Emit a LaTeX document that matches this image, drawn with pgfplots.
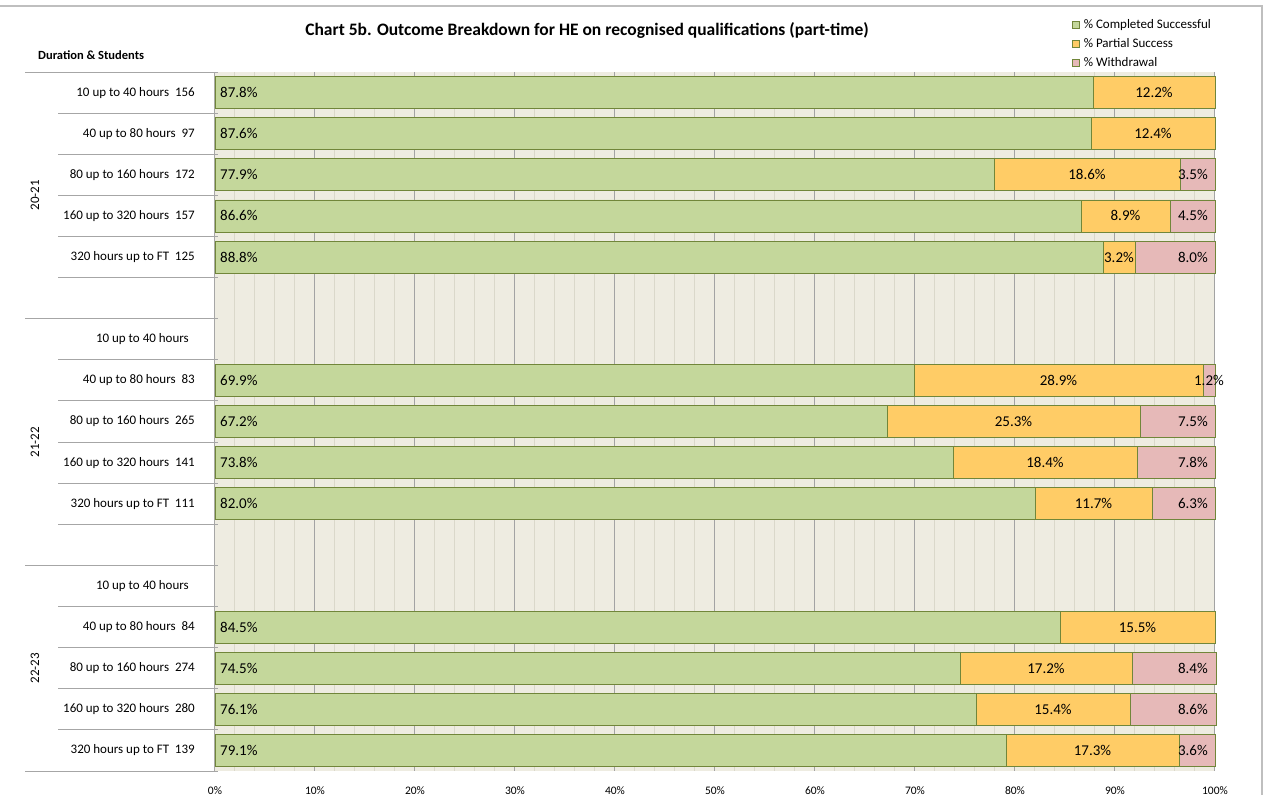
\documentclass[border=0pt]{standalone}
\usepackage{fontspec}
\setmainfont{Carlito}
\usepackage{pgfplots}
\usepackage{pgfplotstable}
\pgfplotsset{compat=1.18}
\definecolor{cg}{HTML}{C4D79B}
\definecolor{co}{HTML}{FFCC66}
\definecolor{cp}{HTML}{E6B9B8}
\definecolor{edge}{HTML}{71863A}
\definecolor{bg}{HTML}{EEECE1}
\definecolor{majg}{HTML}{A3A3A3}
\definecolor{ming}{HTML}{DAD8CA}
\definecolor{sepc}{HTML}{A6A6A6}
\newcommand\datafont{\fontsize{15bp}{17bp}\selectfont}
\newcommand\catfont{\fontsize{13bp}{15bp}\selectfont}
\newcommand\tickfont{\fontsize{11.5bp}{13bp}\selectfont}
\newcommand\legfont{\fontsize{13bp}{15bp}\selectfont}

\pgfplotstableread{
y g p w
0 87.8 12.2 0
1 87.6 12.4 0
2 77.9 18.6 3.5
3 86.6 8.9 4.5
4 88.8 3.2 8.0
7 69.9 28.9 1.2
8 67.2 25.3 7.5
9 73.8 18.4 7.8
10 82.0 11.7 6.3
13 84.5 15.5 0
14 74.5 17.2 8.4
15 76.1 15.4 8.6
16 79.1 17.3 3.6
}\data

\pgfplotsset{
  base/.style={scale only axis, width=1000bp, height=699bp,
    xmin=0, xmax=100, ymin=-0.5, ymax=16.5, y dir=reverse, clip=false,
    at={(0,0)}, anchor=south west},
  myleg/.style={legend image code/.code={\draw[##1,line width=0.6bp] (0bp,-3.5bp) rectangle (7bp,3.5bp);}},
  lbl/.style={draw=none, /pgf/number format/assume math mode=true,
    nodes near coords={\pgfmathprintnumber[fixed,fixed zerofill,precision=1,assume math mode=true]{\pgfplotspointmeta}\%}, point meta=explicit},
}

\begin{document}
\begin{tikzpicture}
\path[use as bounding box] (-215bp,-24bp) rectangle (1059bp,771bp);
\draw[color=black!25, line width=1.2bp] (-215bp,765bp) -- (1047bp,765bp) -- (1047bp,-24bp);
\begin{axis}[base,
  xbar stacked, bar width=32bp,
  axis background/.style={fill=bg},
  axis line style={draw=none},
  xtick={0,10,...,100},
  xticklabels={0\%,10\%,20\%,30\%,40\%,50\%,60\%,70\%,80\%,90\%,100\%},
  minor xtick={2,4,6,8,12,14,16,18,22,24,26,28,32,34,36,38,42,44,46,48,52,54,56,58,62,64,66,68,72,74,76,78,82,84,86,88,92,94,96,98},
  xmajorgrids, xminorgrids,
  major grid style={majg, line width=1bp},
  minor grid style={ming, line width=1bp},
  major tick length=0pt, minor tick length=0pt,
  ytick={0,...,16},
  yticklabels={10 up to 40 hours\ \ 156, 40 up to 80 hours\ \ 97, 80 up to 160 hours\ \ 172, 160 up to 320 hours\ \ 157, 320 hours up to FT\ \ 125, {}, 10 up to 40 hours\hspace*{6bp}, 40 up to 80 hours\ \ 83, 80 up to 160 hours\ \ 265, 160 up to 320 hours\ \ 141, 320 hours up to FT\ \ 111, {}, 10 up to 40 hours\hspace*{6bp}, 40 up to 80 hours\ \ 84, 80 up to 160 hours\ \ 274, 160 up to 320 hours\ \ 280, 320 hours up to FT\ \ 139},
  yticklabel style={font=\catfont, anchor=east, inner sep=0pt, xshift=-20bp},
  xticklabel style={font=\tickfont, inner sep=0pt, yshift=-15bp},
  legend style={at={(axis description cs:0.857,1)}, anchor=south west, yshift=1.5bp, draw=none, fill=none,
    font=\legfont, inner sep=0pt, row sep=4.5bp,
    /tikz/every odd column/.append style={column sep=2bp}},
  legend cell align=left,
]
\addplot[fill=cg, draw=edge, line width=0.75bp, myleg] table[x=g, y=y] {\data};
\addplot[fill=co, draw=edge, line width=0.75bp, myleg] table[x=p, y=y] {\data};
\addplot[fill=cp, draw=edge, line width=0.75bp, myleg] table[x=w, y=y] {\data};
\legend{\% Completed Successful, \% Partial Success, \% Withdrawal}
\draw[sepc, line width=1bp] (rel axis cs:0,0) -- (rel axis cs:0,1);
\pgfplotsinvokeforeach{0.5,1.5,2.5,3.5,4.5,6.5,7.5,8.5,9.5,10.5,12.5,13.5,14.5,15.5}{
  \draw[sepc, line width=1bp] ([xshift=3bp]axis cs:0,#1) -- ([xshift=-157bp]axis cs:0,#1);}
\pgfplotsinvokeforeach{-0.5,5.5,11.5,16.5}{
  \draw[sepc, line width=1bp] ([xshift=3bp]axis cs:0,#1) -- ([xshift=-190bp]axis cs:0,#1);}
\node[rotate=90, font=\catfont] at ([xshift=-180bp]axis cs:0,2.5) {20-21};
\node[rotate=90, font=\catfont] at ([xshift=-180bp]axis cs:0,8.5) {21-22};
\node[rotate=90, font=\catfont] at ([xshift=-180bp]axis cs:0,14) {22-23};
\end{axis}
\begin{axis}[base, hide axis]
\addplot[lbl, every node near coord/.append style={anchor=west, xshift=5bp, font=\datafont, inner sep=0pt}]
  table[x expr=0, y=y, meta=g] {\data};
\addplot[lbl, every node near coord/.append style={anchor=center, font=\datafont, inner sep=0pt}]
  table[x expr=\thisrow{g}+\thisrow{p}/2, y=y, meta=p] {\data};
\addplot[lbl, restrict expr to domain={\thisrow{w}}{2:100}, every node near coord/.append style={anchor=east, xshift=-7bp, font=\datafont, inner sep=0pt}]
  table[x expr=100, y=y, meta=w] {\data};
\addplot[lbl, restrict expr to domain={\thisrow{w}}{0.1:1.99}, every node near coord/.append style={anchor=center, font=\datafont, inner sep=0pt}]
  table[x expr=\thisrow{g}+\thisrow{p}+\thisrow{w}/2, y=y, meta=w] {\data};
\end{axis}
\node[font=\bfseries\fontsize{17.5bp}{20bp}\selectfont] at (372bp,741bp) {Chart 5b. Outcome Breakdown for HE on recognised qualifications (part-time)};
\node[anchor=west, inner sep=0pt, font=\bfseries\fontsize{12.5bp}{15bp}\selectfont] at (-177bp,716bp) {Duration \& Students};
\end{tikzpicture}
\end{document}
